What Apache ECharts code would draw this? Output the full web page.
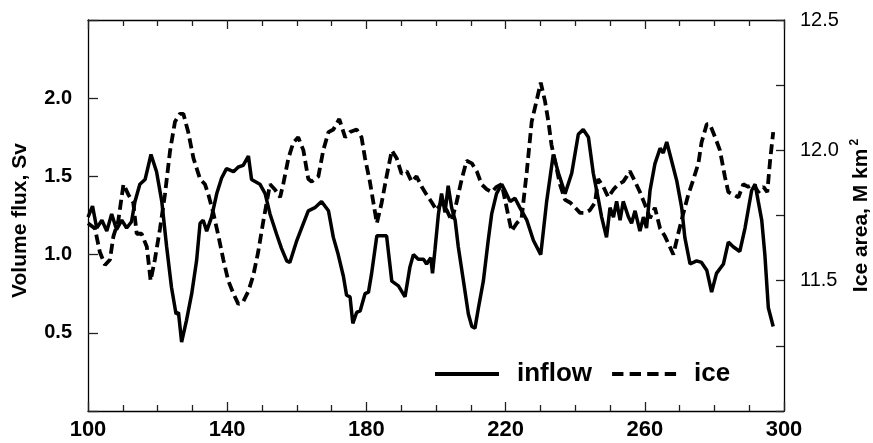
<!DOCTYPE html>
<html>
<head>
<meta charset="utf-8">
<script src="https://cdn.jsdelivr.net/npm/echarts@6/dist/echarts.min.js"></script>
<style>
html,body{margin:0;padding:0;background:#fff;}
#c{width:873px;height:443px;}
</style>
</head>
<body>
<div id="c"></div>
<script>
// inflow (Sv), left axis
const inflowX = [100,101.3,102.5,104.0,105.4,106.8,108.2,109.7,111.1,112.5,113.5,114.9,116.4,118.1,119.7,121.2,122.6,124.0,125.3,126.0,126.9,128.3,129.8,131.2,132.2,133.1,134.1,135.5,137.0,138.4,139.8,141.8,143.2,144.6,146.1,147.0,149.4,150.9,152.3,154.2,155.6,157.1,158.0,160.0,161.9,163.3,165.2,167.1,169.1,170.5,171.9,173.4,174.3,175.3,176.1,177.2,178.2,179.6,180.6,181.5,183.0,185.8,187.3,189.2,191.1,192.5,193.5,194.9,196.4,197.3,198.5,199.0,199.7,200.7,201.6,202.6,203.5,204.5,205.5,206.4,207.9,209.3,210.3,211.2,212.2,213.6,215.0,216.0,217.4,218.9,219.8,221.3,222.7,224.1,226.1,228.0,230.1,231.8,233.7,235.2,237.1,239.0,240.9,242.3,243.8,245.2,246.6,247.6,249.0,250.0,251.0,251.9,252.9,253.8,255.3,256.2,257.2,258.6,259.6,260.5,261.5,262.9,264.4,265.3,266.3,267.7,269.2,270.6,271.5,273.0,274.9,276.3,277.8,279.2,280.6,282.6,284.0,285.4,287.3,288.8,290.7,291.7,292.6,293.6,294.5,295.5,296.9];
const inflowY = [1.24,1.31,1.17,1.22,1.15,1.26,1.16,1.22,1.17,1.21,1.34,1.45,1.48,1.64,1.53,1.34,1.05,0.79,0.62,0.63,0.44,0.58,0.75,0.96,1.20,1.22,1.15,1.24,1.39,1.49,1.55,1.53,1.56,1.57,1.63,1.48,1.45,1.39,1.26,1.13,1.04,0.96,0.95,1.09,1.20,1.28,1.30,1.34,1.28,1.11,1.00,0.86,0.74,0.73,0.56,0.63,0.64,0.75,0.76,0.88,1.12,1.12,0.83,0.80,0.73,0.92,1.00,0.97,0.97,0.94,0.98,0.88,1.03,1.26,1.39,1.27,1.44,1.30,1.22,1.05,0.83,0.62,0.54,0.53,0.66,0.83,1.09,1.26,1.39,1.45,1.41,1.34,1.36,1.30,1.22,1.09,1.00,1.34,1.64,1.52,1.39,1.52,1.77,1.80,1.75,1.52,1.36,1.24,1.11,1.30,1.24,1.34,1.22,1.34,1.24,1.20,1.28,1.15,1.24,1.17,1.41,1.58,1.68,1.65,1.72,1.60,1.47,1.30,1.11,0.94,0.96,0.95,0.90,0.76,0.88,0.94,1.08,1.05,1.02,1.17,1.41,1.45,1.34,1.22,1.00,0.66,0.54];
// ice area (M km^2), right axis
const iceX = [100,102.0,103.4,104.9,106.3,107.3,108.7,110.2,111.6,113.0,114.0,115.4,116.9,118.0,119.2,120.7,122.1,123.6,125.0,126.4,127.4,128.8,130.3,132.2,133.6,134.6,136.0,137.5,138.9,140.3,141.8,143.2,144.6,146.1,147.5,148.9,150.4,152.3,153.7,155.2,156.1,157.6,159.0,160.4,161.9,163.3,164.3,166.2,167.6,169.1,170.5,172.2,173.9,175.3,177.2,178.6,179.6,181.0,182.0,183.0,184.4,185.8,187.3,188.7,190.1,191.6,193.0,194.4,195.9,197.3,198.8,200.2,201.6,203.1,204.5,205.9,207.4,208.8,210.3,211.7,213.1,214.6,216.0,217.4,218.9,220.3,221.7,223.2,224.6,226.1,227.5,228.9,230.1,231.3,232.3,233.2,234.2,235.6,237.1,238.5,240.0,241.4,242.8,244.2,245.7,246.6,248.1,249.5,251.0,252.4,253.8,254.8,255.7,257.2,258.6,260.1,261.5,262.9,264.4,265.8,267.2,268.2,269.6,271.1,272.5,274.0,275.4,276.3,277.8,278.7,280.2,281.6,283.0,284.0,285.4,286.9,288.3,289.7,291.2,292.6,294.1,295.2,296.0,296.9];
const iceY = [11.72,11.70,11.61,11.56,11.58,11.67,11.73,11.87,11.83,11.80,11.68,11.68,11.63,11.50,11.58,11.70,11.83,12.00,12.11,12.14,12.14,12.07,11.97,11.89,11.87,11.83,11.76,11.67,11.58,11.50,11.45,11.41,11.42,11.46,11.52,11.61,11.73,11.87,11.85,11.82,11.87,11.97,12.03,12.05,12.00,11.89,11.88,11.90,12.00,12.07,12.08,12.12,12.05,12.07,12.08,12.05,11.97,11.88,11.80,11.72,11.80,11.90,12.00,11.97,11.91,11.92,11.88,11.90,11.86,11.83,11.80,11.77,11.80,11.77,11.73,11.80,11.89,11.96,11.95,11.92,11.87,11.85,11.84,11.86,11.87,11.78,11.69,11.72,11.74,11.92,12.11,12.19,12.26,12.19,12.11,12.02,11.96,11.87,11.81,11.80,11.78,11.76,11.76,11.77,11.80,11.89,11.86,11.82,11.85,11.87,11.88,11.90,11.92,11.88,11.84,11.79,11.74,11.78,11.70,11.67,11.63,11.60,11.68,11.76,11.83,11.89,11.95,12.03,12.10,12.10,12.05,12.00,11.90,11.84,11.83,11.82,11.87,11.86,11.87,11.84,11.86,11.84,11.96,12.07];
const seriesNames = ['inflow', 'ice'];
const xLabels = [100,140,180,220,260,300];
const leftLabels = [0.5,1.0,1.5,2.0];
const rightLabels = [11.5,12.0,12.5];

const zip = (xs, ys) => xs.map((x, i) => [x, ys[i]]);
const FONT = '"Liberation Sans", Arial, Helvetica, sans-serif';
const axisLine = {show: true, onZero: false, lineStyle: {color: '#000', width: 1.3}};
const tickStyle = {color: '#222', width: 1.3};

const chart = echarts.init(document.getElementById('c'), null, {renderer: 'canvas'});
chart.setOption({
  animation: false,
  backgroundColor: '#fff',
  grid: {left: 88, right: 89, top: 20, bottom: 32, containLabel: false, outerBoundsMode: 'none'},
  legend: {
    data: [
      {name: seriesNames[0], icon: 'path://M0,0H65V4H0Z'},
      {name: seriesNames[1], icon: 'path://M0,0H11V4H0Z M17,0H28V4H17Z M34,0H45V4H34Z M51,0H62V4H51Z'}
    ],
    left: 430, top: 356,
    itemWidth: 64, itemHeight: 4, itemGap: 20, symbolKeepAspect: false,
    itemStyle: {color: '#000', borderWidth: 0},
    lineStyle: {width: 0},
    textStyle: {fontFamily: FONT, fontWeight: 'bold', fontSize: 26, color: '#000', padding: [0, 0, 0, 13]}
  },
  xAxis: [{
    type: 'value', position: 'bottom', min: 100, max: 300, interval: 40,
    axisLine: axisLine,
    axisTick: {show: true, inside: true, length: 9, lineStyle: tickStyle},
    minorTick: {show: true, splitNumber: 4, length: 6, lineStyle: tickStyle},
    splitLine: {show: false},
    axisLabel: {show: true, margin: 8, showMinLabel: true, showMaxLabel: true,
      formatter: v => xLabels.indexOf(v) >= 0 ? String(v) : '',
      fontFamily: FONT, fontWeight: 'bold', fontSize: 22, color: '#000'}
  }, {
    type: 'value', position: 'top', min: 100, max: 300, interval: 40,
    axisLine: axisLine,
    axisTick: {show: true, inside: true, length: 9, lineStyle: tickStyle},
    minorTick: {show: true, splitNumber: 4, length: 6, lineStyle: tickStyle},
    splitLine: {show: false},
    axisLabel: {show: false}
  }],
  yAxis: [{
    type: 'value', position: 'left', min: 0, max: 2.5, interval: 0.5,
    axisLine: axisLine,
    axisTick: {show: true, inside: true, length: 10, lineStyle: tickStyle},
    splitLine: {show: false},
    axisLabel: {margin: 16, fontFamily: FONT, fontWeight: 'bold', fontSize: 20, color: '#000',
      formatter: v => leftLabels.some(l => Math.abs(l - v) < 1e-9) ? v.toFixed(1) : ''},
    name: 'Volume flux, Sv', nameLocation: 'middle', nameRotate: 90, nameGap: 57, nameMoveOverlap: false,
    nameTextStyle: {fontFamily: FONT, fontWeight: 'bold', fontSize: 21, color: '#000', padding: [0, 10, 0, 0]}
  }, {
    type: 'value', position: 'right', min: 11, max: 12.5, interval: 0.25,
    axisLine: axisLine,
    axisTick: {show: true, inside: true, length: 8, lineStyle: tickStyle},
    splitLine: {show: false},
    axisLabel: {margin: 16, fontFamily: FONT, fontWeight: 'normal', fontSize: 20, color: '#000',
      showMaxLabel: true,
      formatter: v => rightLabels.some(l => Math.abs(l - v) < 1e-9) ? v.toFixed(1) : ''},
    name: 'Ice area, M km{sup|2}', nameLocation: 'middle', nameRotate: 90, nameGap: 65, nameMoveOverlap: false,
    nameTextStyle: {fontFamily: FONT, fontWeight: 'bold', fontSize: 21, color: '#000',
      rich: {sup: {fontFamily: FONT, fontWeight: 'bold', fontSize: 12, color: '#000', padding: [0, 0, 12, 3]}}}
  }],
  series: [{
    name: 'inflow', type: 'line', xAxisIndex: 0, yAxisIndex: 0,
    data: zip(inflowX, inflowY), symbol: 'none', showSymbol: false,
    lineStyle: {color: '#000', width: 3.5, type: 'solid'}, itemStyle: {color: '#000'}
  }, {
    name: 'ice', type: 'line', xAxisIndex: 0, yAxisIndex: 1,
    data: zip(iceX, iceY), symbol: 'none', showSymbol: false,
    lineStyle: {color: '#000', width: 3.8, type: [10, 5]}, itemStyle: {color: '#000'}
  }]
});
</script>
</body>
</html>
